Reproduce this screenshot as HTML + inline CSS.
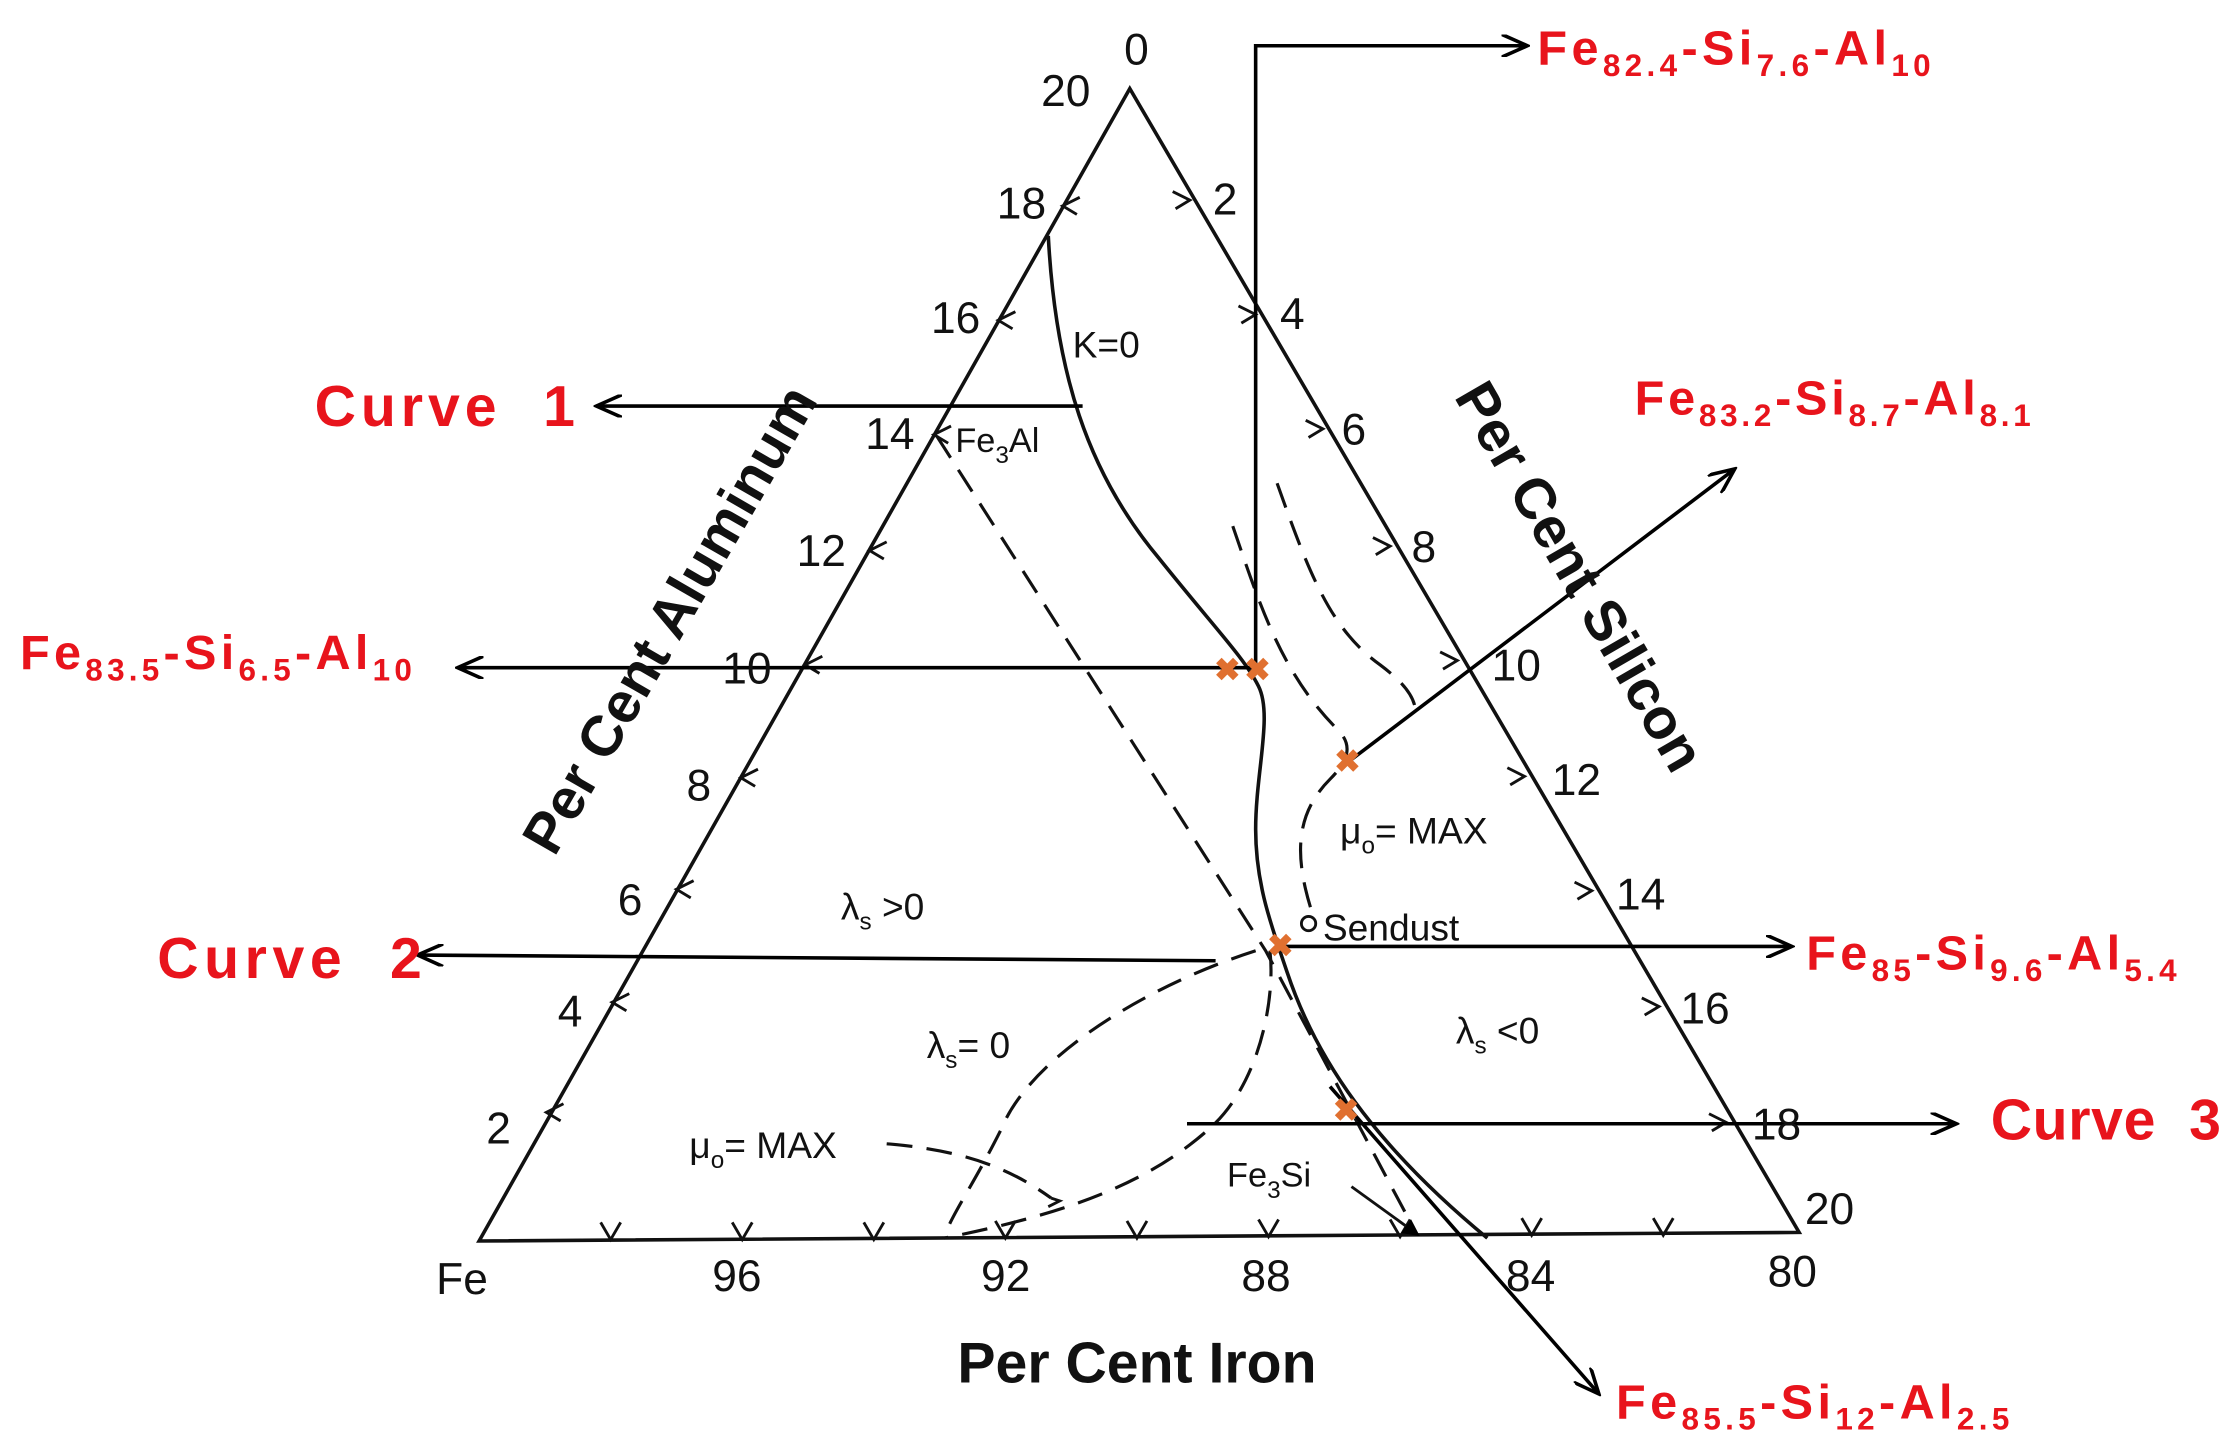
<!DOCTYPE html>
<html><head><meta charset="utf-8"><style>
html,body{margin:0;padding:0;background:#fff;}
svg{display:block}
text{font-family:"Liberation Sans",sans-serif;}
.n{font-size:31px;fill:#111}
.r{fill:#e8141c;font-weight:bold}
.s{font-size:26px;fill:#111}
</style></head><body>
<svg width="2231" height="1454" viewBox="0 0 1560 1017" preserveAspectRatio="none" xmlns="http://www.w3.org/2000/svg">
<defs>
<marker id="a" markerWidth="12" markerHeight="12" refX="11" refY="6" orient="auto" markerUnits="userSpaceOnUse">
<path d="M0,0 L12,6 L0,12 z" fill="#000"/></marker>
<marker id="b" markerWidth="20" markerHeight="16" refX="18" refY="8" orient="auto" markerUnits="userSpaceOnUse">
<path d="M0,0 L18,8 L0,16" fill="none" stroke="#000" stroke-width="2.5"/></marker>
</defs>
<g fill="none" stroke="#111" stroke-width="2.5">
<path d="M335,868 L790,62 L1258,862 Z"/>
</g>
<g fill="none" stroke="#111" stroke-width="2">
<!-- left ticks -->
<path d="M392,784 l-10,-6 l12,-6"/><path d="M438,707 l-10,-6 l12,-6"/><path d="M483,628 l-10,-6 l12,-6"/>
<path d="M528,550 l-10,-6 l12,-6"/><path d="M573,471 l-10,-6 l12,-6"/><path d="M618,391 l-10,-6 l12,-6"/>
<path d="M663,310 l-10,-6 l12,-6"/><path d="M708,230 l-10,-6 l12,-6"/><path d="M753,150 l-10,-6 l12,-6"/>
<!-- right ticks -->
<path d="M820,134 l12,6 l-10,6"/><path d="M866,214 l12,6 l-10,6"/><path d="M913,294 l12,6 l-10,6"/>
<path d="M960,376 l12,6 l-10,6"/><path d="M1007,456 l12,6 l-10,6"/><path d="M1054,537 l12,6 l-10,6"/>
<path d="M1101,617 l12,6 l-10,6"/><path d="M1148,698 l12,6 l-10,6"/><path d="M1195,779 l12,6 l-10,6"/>
<!-- bottom -->
<path d="M420,855 l7,12 l7,-12"/><path d="M512,855 l7,12 l7,-12"/><path d="M604,855 l7,12 l7,-12"/>
<path d="M696,854 l7,12 l7,-12"/><path d="M788,854 l7,12 l7,-12"/><path d="M880,853 l7,12 l7,-12"/>
<path d="M972,853 l7,12 l7,-12"/><path d="M1064,852 l7,12 l7,-12"/><path d="M1156,852 l7,12 l7,-12"/>
</g>
<g fill="none" stroke="#111" stroke-width="2.5">
<path d="M733,165 C738,260 760,330 810,390 C850,440 870,460 880,480 C890,500 878,540 878,580 C878,620 890,650 900,680 C920,740 960,800 1040,866"/>
</g>
<g fill="none" stroke="#111" stroke-width="2.2" stroke-dasharray="18,10">
<path d="M655,305 L885,665 L990,862"/>
<path d="M893,338 C915,400 930,440 965,465 C985,480 990,490 990,500"/>
<path d="M862,368 C880,420 895,470 935,510 C945,520 945,530 930,545 C905,570 905,600 918,640"/>
<path d="M878,665 C800,690 720,740 700,790 C680,830 665,850 660,866"/>
<path d="M888,665 C892,700 880,760 845,790 C800,830 740,850 660,866"/>
<path d="M620,800 C680,805 710,820 735,838"/>
</g>
<g fill="none" stroke="#111" stroke-width="2">
<path d="M945,830 L992,864" marker-end="url(#a)"/>
<path d="M735,838 l6,2 l-8,4"/>
<circle cx="915" cy="646" r="5"/>
</g>
<g fill="none" stroke="#000" stroke-width="2.5">
<path d="M878,467 L878,32 L1068,32" marker-end="url(#b)"/>
<path d="M880,467 L320,467" marker-end="url(#b)"/>
<path d="M757,284 L417,284" marker-end="url(#b)"/>
<path d="M940,535 L1213,328" marker-end="url(#b)"/>
<path d="M850,672 L292,668" marker-end="url(#b)"/>
<path d="M895,662 L1253,662" marker-end="url(#b)"/>
<path d="M830,786 L1368,786" marker-end="url(#b)"/>
<path d="M930,760 L1118,975" marker-end="url(#b)"/>
</g>
<g fill="#e07030" font-size="22" font-weight="bold">
<text x="849" y="476">✖</text><text x="870" y="476">✖</text>
<text x="933" y="540">✖</text><text x="886" y="669">✖</text><text x="932" y="784">✖</text>
</g>
<g class="n">
<text x="786" y="45">0</text><text x="728" y="74">20</text>
<text x="697" y="153">18</text><text x="651" y="233">16</text><text x="605" y="314">14</text>
<text x="557" y="396">12</text><text x="505" y="478">10</text><text x="480" y="560">8</text>
<text x="432" y="640">6</text><text x="390" y="718">4</text><text x="340" y="800">2</text>
<text x="848" y="150">2</text><text x="895" y="230">4</text><text x="938" y="311">6</text>
<text x="987" y="393">8</text><text x="1043" y="476">10</text><text x="1085" y="556">12</text>
<text x="1130" y="636">14</text><text x="1175" y="716">16</text><text x="1225" y="797">18</text>
<text x="1262" y="856">20</text>
<text x="305" y="905">Fe</text><text x="498" y="903">96</text><text x="686" y="903">92</text>
<text x="868" y="903">88</text><text x="1053" y="903">84</text><text x="1236" y="900">80</text>
</g>
<g class="s">
<text x="750" y="250">K=0</text>
<text x="668" y="316" font-size="24">Fe<tspan font-size="17" dy="8">3</tspan><tspan dy="-8">Al</tspan></text>
<text x="937" y="590">μ<tspan font-size="17" dy="7">o</tspan><tspan dy="-7">= MAX</tspan></text>
<text x="925" y="658">Sendust</text>
<text x="588" y="643">λ<tspan font-size="17" dy="7">s</tspan><tspan dy="-7"> &gt;0</tspan></text>
<text x="648" y="740">λ<tspan font-size="17" dy="7">s</tspan><tspan dy="-7">= 0</tspan></text>
<text x="1018" y="730">λ<tspan font-size="17" dy="7">s</tspan><tspan dy="-7"> &lt;0</tspan></text>
<text x="482" y="810">μ<tspan font-size="17" dy="7">o</tspan><tspan dy="-7">= MAX</tspan></text>
<text x="858" y="830" font-size="24">Fe<tspan font-size="17" dy="8">3</tspan><tspan dy="-8">Si</tspan></text>
</g>
<g font-weight="bold" font-size="40" fill="#111">
<text transform="translate(480,440) rotate(-60)" text-anchor="middle">Per Cent Aluminum</text>
<text transform="translate(1093,410) rotate(60)" text-anchor="middle">Per Cent Silicon</text>
<text x="795" y="967" text-anchor="middle">Per Cent Iron</text>
</g>
<g class="r" font-size="34">
<text x="1075" y="45" textLength="275" lengthAdjust="spacing">Fe<tspan font-size="22" dy="8">82.4</tspan><tspan dy="-8">-Si</tspan><tspan font-size="22" dy="8">7.6</tspan><tspan dy="-8">-Al</tspan><tspan font-size="22" dy="8">10</tspan></text>
<text x="1143" y="290" textLength="277" lengthAdjust="spacing">Fe<tspan font-size="22" dy="8">83.2</tspan><tspan dy="-8">-Si</tspan><tspan font-size="22" dy="8">8.7</tspan><tspan dy="-8">-Al</tspan><tspan font-size="22" dy="8">8.1</tspan></text>
<text x="14" y="468" textLength="274" lengthAdjust="spacing">Fe<tspan font-size="22" dy="8">83.5</tspan><tspan dy="-8">-Si</tspan><tspan font-size="22" dy="8">6.5</tspan><tspan dy="-8">-Al</tspan><tspan font-size="22" dy="8">10</tspan></text>
<text x="1263" y="678" textLength="259" lengthAdjust="spacing">Fe<tspan font-size="22" dy="8">85</tspan><tspan dy="-8">-Si</tspan><tspan font-size="22" dy="8">9.6</tspan><tspan dy="-8">-Al</tspan><tspan font-size="22" dy="8">5.4</tspan></text>
<text x="1130" y="992" textLength="275" lengthAdjust="spacing">Fe<tspan font-size="22" dy="8">85.5</tspan><tspan dy="-8">-Si</tspan><tspan font-size="22" dy="8">12</tspan><tspan dy="-8">-Al</tspan><tspan font-size="22" dy="8">2.5</tspan></text>
<text x="220" y="298" font-size="40" textLength="182" lengthAdjust="spacing">Curve&#160;&#160;1</text>
<text x="110" y="684" font-size="40" textLength="185" lengthAdjust="spacing">Curve&#160;&#160;2</text>
<text x="1392" y="797" font-size="40" textLength="161" lengthAdjust="spacing">Curve&#160;&#160;3</text>
</g>
</svg>
</body></html>
